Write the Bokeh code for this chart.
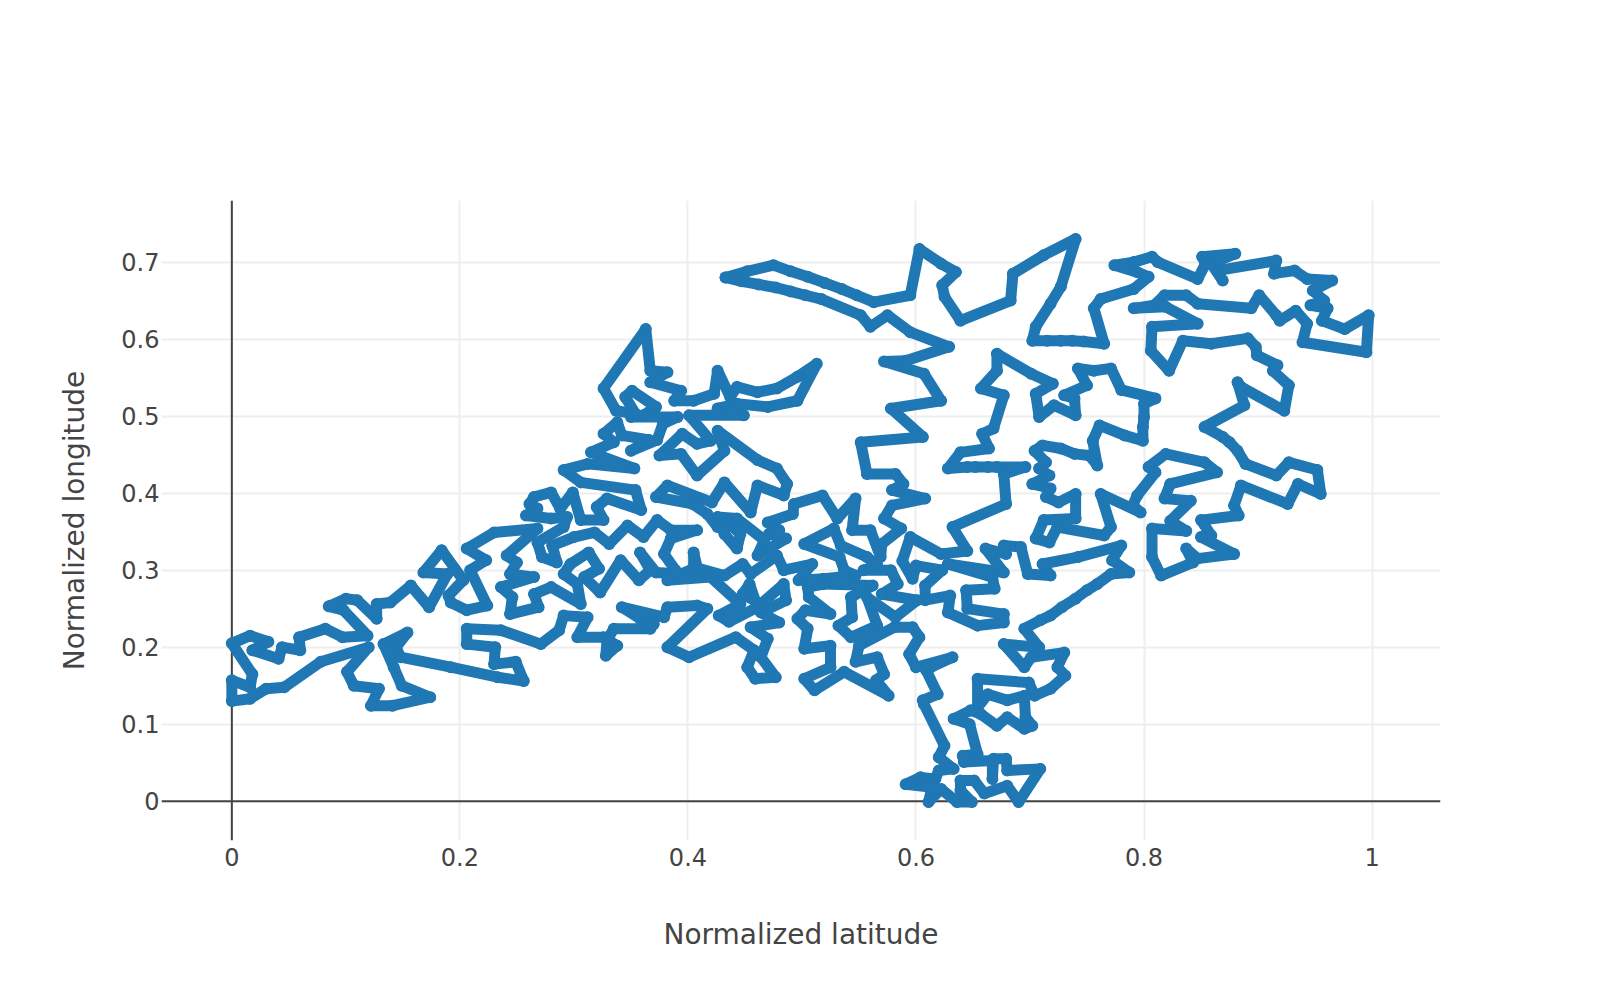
from bokeh.plotting import figure
from bokeh.embed import file_html
from bokeh.resources import INLINE
from bokeh.models import Span, FixedTicker, Range1d

x_ticks = [0, 0.2, 0.4, 0.6, 0.8, 1]
x_tick_labels = ["0", "0.2", "0.4", "0.6", "0.8", "1"]
y_ticks = [0, 0.1, 0.2, 0.3, 0.4, 0.5, 0.6, 0.7]
y_tick_labels = ["0", "0.1", "0.2", "0.3", "0.4", "0.5", "0.6", "0.7"]

# (normalized latitude, normalized longitude) along the tour
leg_north = [(.433,.680),(.452,.688),(.475,.696),(.490,.688),(.505,.681),(.520,.673),(.535,.665),(.548,.657),(.563,.648),(.595,.657),
(.603,.717),(.622,.698),(.635,.687),(.623,.670),(.625,.655),(.639,.624),(.683,.650),(.685,.685),(.712,.709),(.740,.730),
(.727,.668),(.718,.646),(.705,.616),(.702,.598),(.715,.598),(.727,.598),(.737,.598),(.747,.597),(.765,.594),(.756,.640),
(.762,.652),(.791,.665),(.804,.681),(.794,.687),(.774,.696),(.791,.700),(.807,.707),(.812,.700),(.847,.678),(.854,.698),
(.851,.707),(.880,.711),(.859,.698),(.869,.676),(.864,.689),(.916,.702),(.914,.685),(.932,.689),(.943,.678),(.965,.676),
(.948,.663),(.958,.650),(.946,.644),(.961,.640),(.956,.624),(.976,.613),(.997,.631),(.995,.583),(.939,.596),(.943,.620),
(.933,.637),(.919,.624),(.916,.631),(.901,.657),(.894,.640),(.847,.646),(.837,.657),(.818,.657),(.809,.644),(.791,.640),
(.819,.642),(.847,.620),(.807,.616),(.806,.585),(.822,.559),(.834,.598),(.859,.594),(.891,.601),(.898,.590),(.899,.579),
(.917,.566),(.913,.559),(.927,.540),(.923,.507),(.885,.538),(.882,.544),(.888,.514),(.853,.486),(.869,.473),(.875,.466),
(.882,.455),(.889,.438),(.916,.423),(.927,.440),(.952,.430),(.955,.399),(.935,.412),(.926,.386),(.885,.410),(.879,.384),
(.883,.371),(.850,.365),(.859,.345),(.850,.343),(.879,.321),(.847,.315),(.837,.328),(.843,.310),(.815,.293),(.807,.317),
(.807,.354),(.837,.351),(.823,.364),(.841,.390),(.818,.393),(.823,.412),(.864,.427),(.853,.440),(.819,.451),(.804,.434),
(.810,.427),(.794,.397),(.790,.384),(.797,.375),(.762,.399),(.771,.356),(.765,.345),(.724,.356),(.717,.336),(.705,.341),
(.712,.365),(.740,.367),(.740,.399),(.725,.388),(.714,.395),(.718,.406),(.702,.412),(.717,.423),(.708,.432),(.714,.440),
(.704,.455),(.711,.462),(.727,.458),(.739,.451),(.752,.449),(.759,.436),(.755,.468),(.761,.488),(.783,.475),(.799,.468),
(.799,.486),(.800,.499),(.800,.516),(.810,.523),(.780,.534),(.771,.562),(.756,.559),(.742,.562),(.750,.540),(.730,.527),
(.739,.523),(.740,.501),(.721,.514),(.708,.499),(.705,.529),(.720,.542),(.701,.555),(.671,.581),(.671,.559),(.657,.536),
(.677,.527),(.668,.484),(.658,.477),(.664,.458),(.639,.453),(.628,.432),(.645,.434),(.652,.434),(.663,.434),(.671,.434),
(.696,.434),(.677,.425),(.679,.386),(.632,.356),(.645,.325),(.622,.321),(.595,.343)]

leg_south = [(.588,.312),(.597,.289),(.600,.306),(.623,.300),(.608,.280),(.608,.261),(.630,.267),(.628,.245),(.654,.228),(.677,.232),
(.677,.243),(.645,.250),(.644,.274),(.669,.276),(.667,.291),(.628,.308),(.677,.297),(.661,.328),(.679,.321),(.677,.332),
(.692,.330),(.698,.295),(.718,.293),(.711,.308),(.742,.317),(.780,.332),(.772,.313),(.787,.297),(.771,.295),(.759,.282),
(.750,.274),(.740,.263),(.728,.252),(.718,.241),(.709,.235),(.695,.224),(.708,.200),(.677,.204),(.695,.174),(.701,.187),
(.730,.193),(.724,.174),(.731,.163),(.718,.146),(.704,.137),(.699,.154),(.654,.159),(.654,.122),(.663,.139),(.680,.131),
(.695,.137),(.696,.109),(.702,.098),(.695,.094),(.680,.109),(.671,.098),(.657,.113),(.648,.118),(.633,.107),(.647,.100),
(.654,.061),(.641,.059),(.642,.051),(.667,.053),(.667,.029),(.668,.055),(.679,.055),(.680,.040),(.709,.042),(.690,-.001),
(.680,.020),(.660,.010),(.651,.027),(.639,.027),(.639,.014),(.649,-.001),(.636,-.001),(.622,.016),(.611,-.001),(.614,.018),
(.591,.022),(.604,.031),(.617,.029),(.620,.040),(.633,.042),(.620,.057),(.625,.072),(.607,.126),(.606,.131),(.619,.139),
(.609,.170),(.613,.174),(.632,.187),(.600,.174),(.594,.191),(.603,.213),(.597,.226),(.581,.226),(.550,.202)]

leg_middle = [(.547,.181),(.566,.187),(.572,.165),(.565,.157),(.576,.137),(.537,.168),(.511,.144),(.502,.159),(.525,.174),(.525,.202),
(.502,.198),(.505,.224),(.496,.237),(.503,.248),(.525,.243),(.506,.265),(.505,.278),(.519,.282),(.562,.280),(.543,.265),
(.544,.239),(.532,.228),(.543,.213),(.566,.228),(.557,.265),(.582,.239),(.601,.261),(.570,.269),(.584,.282),(.578,.300),
(.554,.300),(.566,.306),(.557,.317),(.534,.332),(.528,.354),(.502,.334),(.533,.317),(.537,.300),(.547,.293),(.519,.289),
(.497,.287),(.509,.308),(.484,.300),(.478,.319),(.455,.295),(.448,.308),(.432,.293),(.405,.304),(.405,.323),(.408,.304),
(.394,.295),(.372,.297),(.358,.323),(.367,.300),(.357,.287),(.341,.313),(.323,.271),(.309,.291),(.322,.302),(.313,.323),
(.297,.308),(.291,.295),(.303,.282),(.306,.256),(.280,.278),(.265,.269),(.269,.252),(.244,.243),(.246,.265),(.236,.278),
(.265,.291),(.244,.295),(.250,.310),(.241,.319),(.268,.354)]

leg_west = [(.230,.349),(.206,.328),(.223,.313),(.209,.300),(.224,.254),(.206,.248),(.192,.258),(.190,.267),(.203,.287),(.184,.326),
(.168,.297),(.189,.295),(.173,.252),(.157,.280),(.139,.258),(.127,.256),(.127,.237),(.110,.261),(.100,.263),(.085,.253),
(.098,.248),(.119,.215),(.097,.213),(.082,.224),(.059,.213),(.060,.196),(.044,.200),(.041,.185),(.018,.196),(.032,.207),
(.016,.215),(.000,.205),(.018,.165),(.016,.148),(.000,.157),(.000,.130),(.016,.133),(.030,.146),(.046,.148),(.078,.181),
(.120,.200),(.101,.168),(.107,.150),(.129,.146),(.122,.124),(.141,.124),(.174,.135),(.149,.150),(.142,.174),(.133,.204),
(.154,.219),(.144,.200),(.148,.187),(.192,.174),(.233,.161),(.256,.156),(.249,.181),(.230,.178),(.231,.200),(.206,.204),
(.206,.224),(.236,.222),(.271,.204),(.287,.222),(.291,.241),(.312,.239),(.303,.213)]

leg_centre = [(.326,.213),(.338,.202),(.328,.189),(.329,.209),(.335,.224),(.367,.224),(.370,.230),(.358,.237),(.342,.252),(.379,.239),
(.382,.252),(.408,.254),(.417,.250),(.382,.200),(.401,.187),(.442,.213),(.458,.196),(.452,.174),(.459,.159),(.477,.161),
(.464,.187),(.470,.211),(.455,.226),(.480,.232),(.464,.245),(.486,.261),(.484,.282),(.464,.256),(.448,.269),(.454,.282),
(.461,.252),(.436,.233),(.427,.241),(.446,.256),(.420,.291),(.382,.287),(.389,.300),(.379,.321),(.385,.341),(.408,.352),
(.385,.352),(.373,.365),(.361,.343),(.347,.358),(.331,.334),(.318,.349),(.300,.343),(.281,.332),(.285,.310),(.272,.317),
(.268,.336),(.291,.356),(.294,.369),(.280,.367),(.258,.371),(.268,.380),(.261,.386),(.265,.395),(.280,.401),(.288,.380),
(.299,.401)]

leg_return = [(.306,.365),(.326,.365),(.320,.382),(.329,.393),(.359,.378),(.354,.404),(.306,.414),(.291,.430),(.312,.438),(.353,.432),
(.315,.453),(.335,.466),(.326,.477),(.338,.492),(.342,.475),(.366,.469),(.350,.455),(.373,.469),(.378,.490),(.391,.499),
(.350,.499),(.361,.501),(.372,.512),(.351,.533),(.345,.525),(.354,.503),(.337,.507),(.326,.536),(.363,.613),(.367,.559),
(.382,.557),(.367,.544),(.394,.533),(.388,.520),(.405,.520),(.423,.529),(.426,.559),(.437,.525),(.443,.538),(.461,.531),
(.478,.536),(.496,.551),(.513,.568),(.496,.520),(.470,.512),(.443,.516),(.426,.510),(.449,.501),(.401,.501),(.420,.468),
(.408,.464),(.395,.477),(.375,.449),(.394,.451),(.408,.423),(.432,.455),(.426,.481),(.461,.443),(.478,.432),(.487,.412),
(.484,.397),(.461,.410),(.455,.375),(.432,.414),(.421,.388),(.382,.410),(.372,.395),(.404,.386),(.417,.373),(.426,.356),
(.435,.362),(.446,.347),(.443,.328),(.432,.347),(.426,.369),(.443,.367),(.467,.339),(.461,.319),(.486,.341),(.471,.347),
(.480,.352),(.470,.362),(.492,.373),(.493,.386),(.518,.397),(.531,.367),(.547,.393),(.544,.352),(.560,.352),(.569,.317),
(.570,.334),(.587,.354),(.572,.367),(.579,.384),(.608,.393),(.579,.404),(.589,.412),(.582,.425),(.557,.425),(.5515,.466),
(.606,.473),(.578,.510),(.622,.520),(.607,.555),(.572,.571),(.591,.572),(.629,.590),(.595,.609),(.575,.631),(.560,.616),
(.5515,.631),(.517,.652),(.503,.657),(.490,.662),(.477,.667),(.462,.671),(.447,.675),(.433,.680)]

tour = leg_north + leg_south + leg_middle + leg_west + leg_centre + leg_return
lat = [t[0] for t in tour]
lon = [t[1] for t in tour]

FONT = "DejaVu Sans"
INK = "#444444"
BLUE = "#1f77b4"

p = figure(width=1584, height=984, output_backend="svg", toolbar_location=None,
           x_range=Range1d(-0.0617, 1.060), y_range=Range1d(-0.051, 0.78),
           min_border_left=161, min_border_right=144, min_border_top=200, min_border_bottom=144,
           x_axis_label="Normalized latitude", y_axis_label="Normalized longitude")
p.outline_line_color = None
p.background_fill_color = "white"
p.border_fill_color = "white"

for ax, ticks, labels in ((p.xaxis[0], x_ticks, x_tick_labels), (p.yaxis[0], y_ticks, y_tick_labels)):
    ax.ticker = FixedTicker(ticks=ticks)
    ax.major_label_overrides = dict(zip(ticks, labels))
    ax.axis_line_color = None
    ax.major_tick_line_color = None
    ax.minor_tick_line_color = None
    ax.major_tick_out = 0
    ax.major_tick_in = 0
    ax.major_label_text_font = FONT
    ax.major_label_text_font_size = "24px"
    ax.major_label_text_color = INK
    ax.axis_label_text_font = FONT
    ax.axis_label_text_font_size = "28px"
    ax.axis_label_text_font_style = "normal"
    ax.axis_label_text_color = INK
p.xaxis[0].major_label_standoff = 7
p.yaxis[0].major_label_standoff = 2
p.xaxis[0].axis_label_standoff = 49
p.yaxis[0].axis_label_standoff = 27

p.xgrid[0].ticker = FixedTicker(ticks=x_ticks)
p.ygrid[0].ticker = FixedTicker(ticks=y_ticks)
p.xgrid[0].grid_line_color = "#eeeeee"
p.ygrid[0].grid_line_color = "#eeeeee"
p.xgrid[0].grid_line_width = 2
p.ygrid[0].grid_line_width = 2

p.add_layout(Span(location=0, dimension="width", line_color=INK, line_width=2, level="underlay"))
p.add_layout(Span(location=0, dimension="height", line_color=INK, line_width=2, level="underlay"))

# separate segments so that the corners are rounded by the markers instead of mitred
p.segment(lat[:-1], lon[:-1], lat[1:], lon[1:], line_color=BLUE, line_width=11, line_cap="round")
p.scatter(lat, lon, size=12, fill_color=BLUE, line_color=BLUE, line_width=0)

open("out.html", "w").write(file_html(p, INLINE))
